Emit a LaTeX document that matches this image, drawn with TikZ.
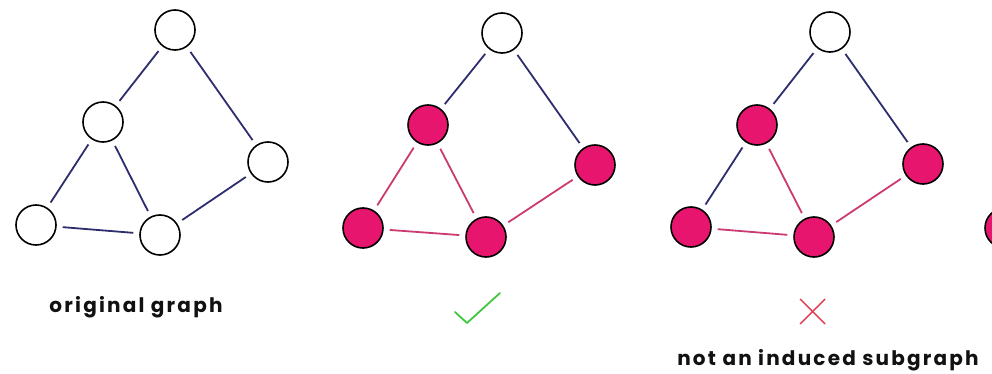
\documentclass[tikz,border=0pt]{standalone}
\usepackage{fontspec}
\setmainfont{Poppins}
\newfontfamily\capfont[LetterSpace=11]{Poppins}
\usetikzlibrary{positioning}
\definecolor{NodePink}{HTML}{E8156F}
\definecolor{EdgePink}{HTML}{CC3A72}
\definecolor{EdgeNavy}{HTML}{2E2E6E}
\definecolor{CheckGreen}{HTML}{3FC83F}
\definecolor{CrossRed}{HTML}{E23A4E}
\definecolor{DarkText}{HTML}{111111}

\tikzset{
  vtx/.style={circle, draw=black, line width=1.6pt, minimum size=40pt, inner sep=0pt, fill=white},
  vtxon/.style={vtx, fill=NodePink},
  edgeoff/.style={draw=EdgeNavy, line width=1.8pt, shorten <=6pt, shorten >=6pt},
  edgeon/.style={edgeoff, draw=EdgePink},
  caption/.style={anchor=base, font=\capfont\fontsize{20}{23}\selectfont\bfseries, text=DarkText}
}

\begin{document}
\begin{tikzpicture}[x=1pt, y=-1pt]
  \clip (0,0) rectangle (992,374);
  \fill[white] (0,0) rectangle (992,374);

  % original graph
  \node[vtx] (t1) at (175, 30) {};
  \node[vtx] (m1) at (103, 122) {};
  \node[vtx] (r1) at (268, 162) {};
  \node[vtx] (l1) at (36, 225) {};
  \node[vtx] (b1) at (160, 235) {};
  \draw[edgeoff] (t1) -- (m1);
  \draw[edgeoff] (t1) -- (r1);
  \draw[edgeoff] (m1) -- (l1);
  \draw[edgeoff] (m1) -- (b1);
  \draw[edgeoff] (l1) -- (b1);
  \draw[edgeoff] (b1) -- (r1);
  \node[caption] (c1) at (136, 312) {original graph};

  % induced subgraph
  \node[vtx] (t2) at (502, 33) {};
  \node[vtxon] (m2) at (428, 125) {};
  \node[vtxon] (r2) at (595, 165) {};
  \node[vtxon] (l2) at (363, 228) {};
  \node[vtxon] (b2) at (486, 237) {};
  \draw[edgeoff] (t2) -- (m2);
  \draw[edgeoff] (t2) -- (r2);
  \draw[edgeon] (m2) -- (l2);
  \draw[edgeon] (m2) -- (b2);
  \draw[edgeon] (l2) -- (b2);
  \draw[edgeon] (b2) -- (r2);
  \draw[CheckGreen, line width=1.8pt, line cap=round, line join=round]
    (455, 312) -- (467, 323) -- (500, 293);

  % not induced
  \node[vtx] (t3) at (830, 32) {};
  \node[vtxon] (m3) at (757, 125) {};
  \node[vtxon] (r3) at (923, 164) {};
  \node[vtxon] (l3) at (691, 227) {};
  \node[vtxon] (b3) at (814, 237) {};
  \draw[edgeoff] (t3) -- (m3);
  \draw[edgeoff] (t3) -- (r3);
  \draw[edgeoff] (m3) -- (l3);
  \draw[edgeon] (m3) -- (b3);
  \draw[edgeon] (l3) -- (b3);
  \draw[edgeon] (b3) -- (r3);
  \draw[CrossRed, line width=1.4pt] (800, 299) -- (825, 324);
  \draw[CrossRed, line width=1.4pt] (825, 299) -- (800, 324);
  \node[caption] (c3) at (828, 365) {not an induced subgraph};

  % next graph, cut off at the edge
  \node[vtxon] (l4) at (1005, 228) {};
\end{tikzpicture}
\end{document}
